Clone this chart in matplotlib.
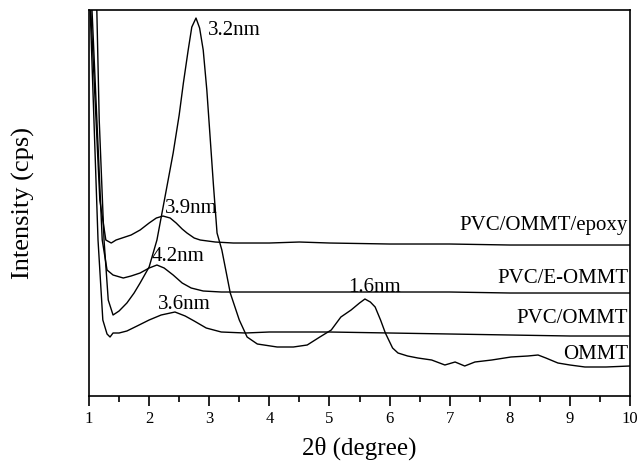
import matplotlib
matplotlib.use("Agg")
import matplotlib.pyplot as plt
from matplotlib.ticker import MultipleLocator

plt.rcParams['font.family'] = ['Liberation Serif', 'DejaVu Serif']

# OMMT
x_ommt = [1.00,1.13,1.17,1.25,1.32,1.40,1.50,1.63,1.75,1.85,2.00,2.13,2.27,2.40,2.50,2.57,2.65,2.71,2.78,2.84,
          2.90,2.96,3.01,3.07,3.13,3.21,3.35,3.50,3.63,3.80,4.13,4.40,4.63,4.84,5.03,5.19,5.36,5.50,5.59,5.68,
          5.76,5.85,5.93,6.05,6.14,6.30,6.47,6.70,6.92,7.09,7.25,7.42,7.70,8.02,8.30,8.47,8.60,8.80,9.00,9.25,
          9.60,10.0]
y_ommt = [546,386,276,156,96,81,85,93,103,113,129,156,201,243,281,313,346,369,378,368,
          346,306,263,211,163,146,103,76,59,52,49,49,51,59,66,79,86,93,97,94,
          89,76,63,48,43,40,38,36,31,34,30,34,36,39,40,41,38,33,31,29,
          29,30]

# PVC/OMMT/epoxy
x_epoxy = [1.00,1.03,1.18,1.28,1.37,1.45,1.55,1.70,1.85,2.00,2.12,2.23,2.35,2.45,2.55,2.63,2.75,2.85,3.10,3.40,
           4.00,4.50,5.00,6.00,7.00,8.00,9.00,10.0]
y_epoxy = [546,386,196,156,153,156,158,161,166,173,178,180,178,173,167,163,158,156,154,153,
           153,154,153,152,152,151,151,151]

# PVC/E-OMMT
x_eommt = [1.00,1.05,1.22,1.30,1.40,1.57,1.70,1.85,2.00,2.13,2.25,2.40,2.55,2.70,2.90,3.20,4.00,5.00,6.00,7.00,
           8.00,9.00,10.0]
y_eommt = [546,386,156,126,121,118,120,123,128,131,128,121,113,108,105,104,104,104,104,104,
           103,103,103]

# PVC/OMMT
x_pvc = [1.00,1.02,1.15,1.23,1.30,1.35,1.40,1.50,1.63,1.80,2.00,2.20,2.43,2.60,2.75,2.95,3.20,3.60,4.00,5.00,
         6.00,7.00,8.00,9.00,10.0]
y_pvc = [546,386,156,76,62,59,63,63,65,70,76,81,84,80,75,68,64,63,64,64,
         63,62,61,60,60]

series_names = ["PVC/OMMT/epoxy", "PVC/E-OMMT", "PVC/OMMT", "OMMT"]
series_label_y = [166, 113, 73, 37]

peak_labels = ["3.2nm", "3.9nm", "4.2nm", "3.6nm", "1.6nm"]
peak_x = [2.98, 2.26, 2.05, 2.15, 5.31]
peak_y = [361, 183, 135, 87, 104]

xticks = [1, 2, 3, 4, 5, 6, 7, 8, 9, 10]

fig = plt.figure(figsize=(6.38, 4.65), dpi=100)
ax = fig.add_axes([0.1395, 0.1484, 0.848, 0.830])

for xs, ys in [(x_ommt, y_ommt), (x_epoxy, y_epoxy), (x_eommt, y_eommt), (x_pvc, y_pvc)]:
    ax.plot(xs, ys, color='black', lw=1.0)

ax.set_xlim(1, 10)
ax.set_ylim(0, 386)
ax.set_xticks(xticks)
ax.set_xticklabels([str(t) for t in xticks])
ax.xaxis.set_minor_locator(MultipleLocator(0.5))
ax.tick_params(axis='x', which='major', direction='out', length=7, width=1.2, labelsize=12, pad=4)
ax.tick_params(axis='x', which='minor', direction='out', length=4, width=1.2)
ax.set_yticks([])
for s in ax.spines.values():
    s.set_linewidth(1.2)

for name, yy in zip(series_names, series_label_y):
    ax.text(9.97, yy, name, ha='right', va='baseline', fontsize=15)

for lab, px, py in zip(peak_labels, peak_x, peak_y):
    ax.text(px, py, lab, ha='left', va='baseline', fontsize=15)

ax.set_xlabel("2θ (degree)", fontsize=18, labelpad=7)
ax.set_ylabel("Intensity (cps)", fontsize=19, labelpad=39)

fig.savefig("out.png", dpi=100)
